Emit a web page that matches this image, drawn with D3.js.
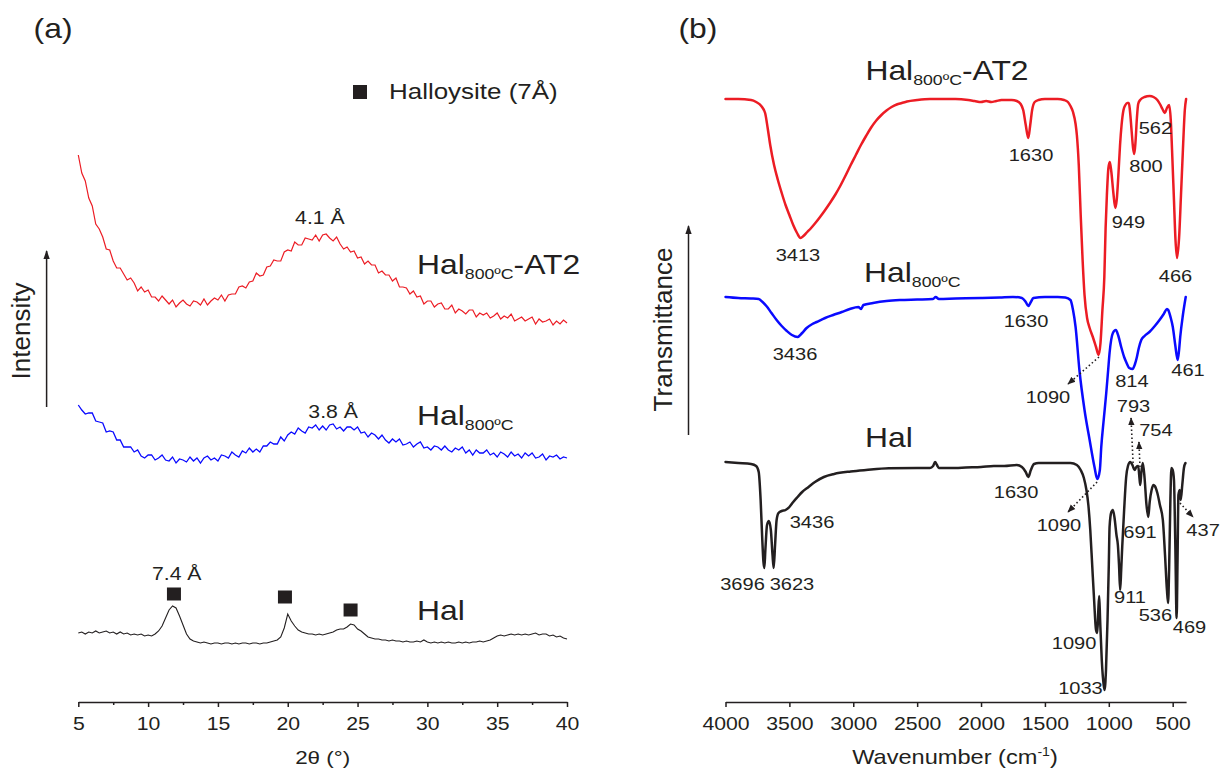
<!DOCTYPE html>
<html><head><meta charset="utf-8">
<script src="https://cdn.jsdelivr.net/npm/d3@7"></script>
<style>
html,body{margin:0;padding:0;background:#fff;}
svg{display:block;font-family:"Liberation Sans",Arial,Helvetica,sans-serif;}
</style></head><body>
<svg id="chart" width="1224" height="769"></svg>
<script>
// ---------------- DATA ----------------
// (a) XRD: 2θ sampled every 0.25° from 5° to 40°
const xrdStart = 5, xrdEnd = 40, xrdStep = 0.25;
const xrdTicks = [5, 10, 15, 20, 25, 30, 35, 40];
const xrdMinorTicks = [7.5, 12.5, 17.5, 22.5, 27.5, 32.5, 37.5];
const xrdHalAT2 = [547,529,521,504,496,478,473,465,453,452,
441,434,434,428,422,424,419,411,415,410,
412,405,405,401,406,402,398,402,395,399,
402,398,396,401,400,397,403,397,401,404,
402,407,401,407,408,408,415,416,414,420,
421,429,426,427,435,436,442,441,441,450,
452,451,460,457,457,464,463,462,467,461,
467,468,464,461,465,458,453,455,450,451,
444,445,438,441,437,437,429,431,427,427,
421,424,415,415,414,408,411,405,406,398,
401,401,395,398,399,393,393,397,389,393,
391,388,392,392,385,389,387,389,384,386,
389,383,386,384,388,381,383,385,381,383,
385,378,383,380,381,383,377,381,378,382,
379];
const xrdHal800 = [297,292,288,289,289,281,280,279,270,271,
270,262,262,255,255,255,250,252,246,244,
247,247,242,244,247,242,241,245,239,243,
242,240,245,241,244,239,244,246,242,244,
241,247,246,244,250,247,245,251,249,254,
250,253,250,256,256,260,258,258,265,261,
267,270,268,274,271,269,275,274,277,272,
276,272,277,278,273,275,271,275,275,272,
275,269,270,265,269,267,263,267,262,259,
263,260,263,257,258,260,255,258,260,254,
255,252,256,255,252,256,252,250,254,252,
255,249,252,247,252,249,249,252,247,249,
245,250,248,245,250,246,248,244,249,246,
249,244,245,248,242,246,245,247,243,245,
244];
const xrdHal = [69,70,68,70,69,71,69,70,71,69,
70,68,70,68,69,67,68,67,68,66,
67,66,68,71,76,84,92,96,94,86,
77,68,63,61,60,59,60,59,58,59,
59,58,59,59,58,59,58,59,59,58,
59,59,58,59,59,60,61,62,65,74,
88,81,76,72,70,69,68,68,67,68,
67,68,69,70,72,73,73,75,78,77,
73,71,68,65,64,63,63,62,62,61,
62,61,61,60,61,60,60,61,60,62,
60,59,60,59,60,59,60,59,59,60,
59,60,59,60,60,61,60,61,62,64,
66,67,66,67,68,67,68,67,68,67,
68,69,67,68,68,66,67,65,66,64,
63];
const halloysitePeaks2Theta = [11.85, 19.8, 24.5];
const halloysiteMarkerLevel = [108, 105, 92];

// (b) FTIR
const ftirTicks = [4000, 3500, 3000, 2500, 2000, 1500, 1000, 500];
const ftirAT2Wn = [4000,3900,3800,3760,3720,3690,3670,3650,3620,3590,3560,3530,3500,3470,3440,3413,3390,3360,3330,3300,3260,3220,3180,3140,3100,3060,3020,2980,2940,2900,2860,2820,2780,2740,2700,2660,2620,2580,2500,2400,2300,2200,2100,2050,2000,1960,1920,1880,1840,1800,1760,1720,1690,1670,1650,1630,1615,1600,1580,1550,1500,1450,1400,1350,1320,1300,1280,1260,1250,1235,1220,1205,1190,1170,1150,1125,1100,1080,1065,1050,1035,1025,1015,1003,992,980,965,949,938,925,912,900,885,870,855,843,835,822,810,800,790,780,770,755,720,680,650,620,600,580,562,545,528,515,505,490,478,466,450,435,420,405,395];
const ftirAT2T = [603,603,602,600,596,589,574,557,537,522,509,497,487,477,469,464,466,470,474,478.5,485,492,499.5,507.5,516.5,526.5,537,547,557,566,574.5,581.5,587,591.5,595,597.5,599,600.5,602,603,603,603,602,601,600,601,600,601,602,602,602,601,598,592,577,564,577,592,600,602,603,603,603,602,600,596,590,578,567,537,487,442,407,384,374,365,355,347,359,392,425,474,507,534,540,530,510,494,502,527,557,577,592,597,599,599,592,572,554,548,562,584,598,602,605,606,605,602,598,593,589,594,597,582,552,502,462,444,464,507,552,592,603];
const ftirHal800Wn = [4000,3900,3800,3740,3710,3680,3640,3600,3560,3520,3480,3436,3400,3365,3320,3287,3220,3157,3090,3027,2960,2940,2920,2845,2740,2636,2500,2376,2355,2330,2200,2000,1854,1750,1680,1650,1630,1610,1590,1500,1400,1340,1300,1280,1260,1230,1190,1150,1112,1090,1070,1059,1040,1020,1005,994,968,945,925,903,880,864,840,814,795,780,765,746,720,682,640,603,570,545,535,515,499,480,461,450,441,420,398];
const ftirHal800T = [405,404,403.5,403,400,396,389,382,376,371,367,365,369,374,378,380,384,387,390,393,395,393,397,399,401,402,402.5,403,405,403,403.5,404,404.5,405,404,400,396,400,404,405,405,404.5,402,392,375,332,292,262,235,223,232,255,282,309,332,349,369,372,366,355,345,340,334,333,338,345,354,362,366,370,376,382,388,393,392,384,375,357,342,352,365,387,405];
const ftirHalWn = [4000,3900,3800,3760,3740,3725,3712,3703,3696,3688,3675,3660,3645,3632,3623,3612,3600,3585,3560,3530,3500,3470,3436,3400,3350,3300,3230,3150,3020,2900,2722,2500,2400,2375,2360,2345,2330,2200,2120,2000,1900,1818,1720,1680,1650,1630,1610,1585,1549,1400,1300,1250,1220,1195,1175,1160,1145,1130,1115,1100,1090,1082,1075,1068,1055,1040,1033,1022,1010,1000,994,980,968,955,940,929,920,911,903,895,880,864,850,832,815,798,785,770,760,754,745,734,720,705,691,680,665,650,640,620,600,577,560,545,536,528,518,510,500,490,480,469,462,455,445,437,425,412,400];
const ftirHalT = [240,239,238,236,230,202,162,140,134,152,177,181,172,147,134,157,182,189,191,192,195,200,205,210,215,220,225,228,230.5,232,233.7,234,234,236,240,237,234,234,234.5,235,236,236,237,235,230,225,232,238,239,239,239,237,232,224,212,197,172,137,102,72,69,92,106,82,42,17,12,32,82,137,175,190,192,184,167,157,137,112,132,155,192,225,236,240,237,232,235,236,224,217,230,239,224,197,185,200,212,217,216,209,197,182,147,112,99,132,202,234,232,222,162,84,142,207,212,202,217,234,239];

// Annotation anchors (data coordinates)
const xrdNotes = [
  {t:"4.1 Å", x:22.3, v:478},
  {t:"3.8 Å", x:23.25, v:284},
  {t:"7.4 Å", x:12.05, v:122}
];
const ftirNotes = [
  {t:"1630", wn:1609, v:541}, {t:"3413", wn:3433, v:441}, {t:"562", wn:635, v:568},
  {t:"800", wn:709, v:530}, {t:"949", wn:846, v:474}, {t:"466", wn:478, v:420},
  {t:"1630", wn:1648, v:375}, {t:"3436", wn:3456, v:342}, {t:"1090", wn:1476, v:299},
  {t:"814", wn:819, v:315}, {t:"461", wn:380, v:326}, {t:"793", wn:807, v:290},
  {t:"754", wn:631, v:266}, {t:"1630", wn:1726, v:204}, {t:"3436", wn:3323, v:174},
  {t:"1090", wn:1390, v:171}, {t:"691", wn:756, v:164}, {t:"437", wn:262, v:166},
  {t:"3696", wn:3867, v:112}, {t:"3623", wn:3480, v:112}, {t:"911", wn:834, v:99},
  {t:"536", wn:635, v:81}, {t:"469", wn:368, v:69}, {t:"1090", wn:1272, v:53},
  {t:"1033", wn:1222, v:8}
];
const ftirArrows = [
  {wn1:1077, v1:345, wn2:1319, v2:318},
  {wn1:1092, v1:220, wn2:1319, v2:190},
  {wn1:810, v1:239, wn2:826, v2:284},
  {wn1:756, v1:235, wn2:764, v2:260},
  {wn1:443, v1:199, wn2:341, v2:185}
];

// ---------------- DRAWING ----------------
const svg = d3.select("#chart");
const ink = "#231f20", red = "#ec1c24", blue = "#0a0aff";
const S = 1.18;

const xA = d3.scaleLinear().domain([xrdStart, xrdEnd]).range([78.3, 567]);
const yA = d3.scaleLinear().domain([0, 600]).range([702, 102]);
const xB = d3.scaleLinear().domain([4000, 395]).range([725.5, 1186.1]);
const yB = d3.scaleLinear().domain([0, 600]).range([702, 102]);

const defs = svg.append("defs");
defs.append("marker").attr("id","ahs").attr("viewBox","0 0 10 10").attr("refX",9).attr("refY",5)
  .attr("markerWidth",8).attr("markerHeight",8).attr("markerUnits","userSpaceOnUse").attr("orient","auto")
  .append("path").attr("d","M0,1 L10,5 L0,9 Z").attr("fill",ink);
defs.append("marker").attr("id","ahb").attr("viewBox","0 0 10 10").attr("refX",9).attr("refY",5)
  .attr("markerWidth",12).attr("markerHeight",9).attr("markerUnits","userSpaceOnUse").attr("orient","auto")
  .append("path").attr("d","M0,1.5 L10,5 L0,8.5 Z").attr("fill",ink);

function addText(x, y, size, anchor, parts, sx) {
  const t = svg.append("text")
    .attr("transform", `translate(${x},${y}) scale(${sx === undefined ? S : sx},1)`)
    .attr("text-anchor", anchor).attr("font-size", size).attr("fill", ink);
  if (typeof parts === "string") t.text(parts);
  else parts.forEach(p => {
    const ts = t.append("tspan").text(p.t);
    if (p.size) ts.attr("font-size", p.size);
    if (p.dy) ts.attr("dy", p.dy);
  });
  return t;
}
const halSub = (tail) => [{t:"Hal"},{t:"800ºC", size:15, dy:5}].concat(tail ? [{t:tail, dy:-5}] : []);

function styleAxis(g) {
  g.select(".domain").attr("stroke", ink).attr("stroke-width", 1.5);
  g.selectAll(".tick line").attr("stroke", ink).attr("stroke-width", 1.5);
  g.selectAll(".tick text").attr("fill", ink).attr("font-size", 18)
    .attr("font-family", "Liberation Sans, Arial, sans-serif")
    .attr("y", 28).attr("dy", null).attr("transform", `scale(${S},1)`);
}

// ----- panel (a) -----
const twoTheta = d3.range(xrdHalAT2.length).map(i => xrdStart + i * xrdStep);
const lineA = d3.line().x((d, i) => xA(twoTheta[i])).y(d => yA(d)).curve(d3.curveLinear);
svg.append("path").datum(xrdHalAT2).attr("d", lineA).attr("fill","none").attr("stroke",red).attr("stroke-width",1.2);
svg.append("path").datum(xrdHal800).attr("d", lineA).attr("fill","none").attr("stroke",blue).attr("stroke-width",1.3);
svg.append("path").datum(xrdHal).attr("d", lineA).attr("fill","none").attr("stroke",ink).attr("stroke-width",1.1);

svg.append("g").selectAll("rect").data(halloysitePeaks2Theta).join("rect")
  .attr("x", d => xA(d) - 7).attr("y", (d, i) => yA(halloysiteMarkerLevel[i]) - 6.5)
  .attr("width", 14).attr("height", 13).attr("fill", ink);

const axA = svg.append("g").attr("transform","translate(0,702)")
  .call(d3.axisBottom(xA).tickValues(xrdTicks).tickSize(5).tickSizeOuter(0).tickFormat(d3.format("d")));
styleAxis(axA);
const axAm = svg.append("g").attr("transform","translate(0,702)")
  .call(d3.axisBottom(xA).tickValues(xrdMinorTicks).tickSize(3).tickSizeOuter(0).tickFormat(""));
axAm.select(".domain").remove();
axAm.selectAll(".tick line").attr("stroke", ink).attr("stroke-width", 1.5);

addText(xA(22.5), 764, 19, "middle", "2θ (°)");
addText(33.6, 38, 27, "start", "(a)");

// legend
svg.append("rect").attr("x", 353).attr("y", 85).attr("width", 14).attr("height", 14).attr("fill", ink);
addText(389, 98.5, 22, "start", "Halloysite (7Å)");

xrdNotes.forEach(n => addText(xA(n.x), yA(n.v), 18, "middle", n.t));
addText(xA(29.26), yA(428), 27, "start", halSub("-AT2"));
addText(xA(29.26), yA(277), 27, "start", halSub(null));
addText(xA(29.26), yA(82), 27, "start", "Hal");

// intensity arrow
svg.append("line").attr("x1",46.6).attr("y1",407).attr("x2",46.6).attr("y2",251)
  .attr("stroke",ink).attr("stroke-width",1.5).attr("marker-end","url(#ahb)");
svg.append("text").attr("transform","translate(29.6,331) rotate(-90)").attr("text-anchor","middle")
  .attr("font-size",26).attr("fill",ink).text("Intensity");

// ----- panel (b) -----
function ftirLine(wn, t, color) {
  const pts = wn.map((w, i) => [xB(w), yB(t[i])]);
  svg.append("path").datum(pts).attr("d", d3.line().curve(d3.curveMonotoneX))
    .attr("fill","none").attr("stroke",color).attr("stroke-width",2.5)
    .attr("stroke-linejoin","round").attr("stroke-linecap","round");
}
ftirLine(ftirHalWn, ftirHalT, ink);
ftirLine(ftirHal800Wn, ftirHal800T, blue);
ftirLine(ftirAT2Wn, ftirAT2T, red);

const axB = svg.append("g").attr("transform","translate(0,702)")
  .call(d3.axisBottom(xB).tickValues(ftirTicks).tickSize(5).tickSizeOuter(0).tickFormat(d3.format("d")));
styleAxis(axB);

addText(955, 764, 20, "middle", [{t:"Wavenumber (cm"},{t:"-1", size:12, dy:-8},{t:")", dy:8}]);
addText(678.5, 38, 27, "start", "(b)");

ftirNotes.forEach(n => addText(xB(n.wn), yB(n.v), 17, "middle", n.t));
ftirArrows.forEach(a => {
  svg.append("line").attr("x1", xB(a.wn1)).attr("y1", yB(a.v1)).attr("x2", xB(a.wn2)).attr("y2", yB(a.v2))
    .attr("stroke", ink).attr("stroke-width", 1.6).attr("stroke-dasharray","1.5 2.5")
    .attr("marker-end","url(#ahs)");
});

addText(xB(2905), yB(622), 27, "start", halSub("-AT2"));
addText(xB(2916), yB(420), 27, "start", halSub(null));
addText(xB(2908), yB(255), 27, "start", "Hal");

svg.append("line").attr("x1",688.5).attr("y1",435).attr("x2",688.5).attr("y2",226)
  .attr("stroke",ink).attr("stroke-width",1.5).attr("marker-end","url(#ahb)");
svg.append("text").attr("transform","translate(672,329.5) rotate(-90)").attr("text-anchor","middle")
  .attr("font-size",26).attr("fill",ink).text("Transmittance");
</script>
</body></html>
